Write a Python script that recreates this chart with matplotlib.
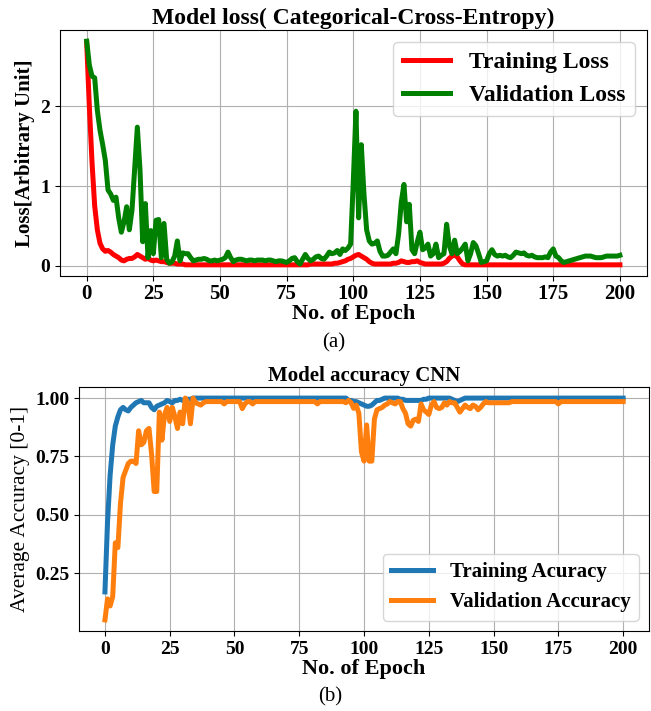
import matplotlib
matplotlib.use("Agg")
import matplotlib.pyplot as plt
import numpy as np

# values, one per epoch (0..200)
epochs = np.arange(201)

train_loss = [
    2.80, 2.00, 1.30, 0.75, 0.45, 0.28, 0.21, 0.18, 0.19, 0.17,
    0.14, 0.12, 0.10, 0.07, 0.06, 0.08, 0.09, 0.09, 0.11, 0.14,
    0.12, 0.10, 0.08, 0.09, 0.07, 0.06, 0.07, 0.06, 0.05, 0.05,
    0.04, 0.03, 0.03, 0.03, 0.02, 0.02, 0.02, 0.01, 0.01, 0.01,
] + [0.01] * 44 + [
    0.02, 0.02, 0.02, 0.02, 0.02, 0.02,
    0.02, 0.02, 0.02, 0.03, 0.03, 0.04, 0.05, 0.06, 0.08, 0.09,
    0.11, 0.13, 0.14, 0.12, 0.10, 0.08, 0.05, 0.03, 0.02, 0.02,
    0.02, 0.02, 0.02, 0.02, 0.02, 0.03, 0.03, 0.04, 0.06, 0.05,
    0.04, 0.04, 0.05, 0.05, 0.06, 0.04, 0.03, 0.02, 0.02, 0.02,
    0.02, 0.02, 0.02, 0.02, 0.03, 0.05, 0.09, 0.12, 0.13, 0.11,
    0.06, 0.02, 0.01, 0.01, 0.01, 0.01, 0.01, 0.01, 0.01, 0.01,
] + [0.01] * 51

val_loss = [
    2.82, 2.52, 2.38, 2.36, 1.95, 1.70, 1.52, 1.32, 0.95, 0.90,
    0.82, 0.86, 0.60, 0.42, 0.55, 0.74, 0.45, 0.70, 1.22, 1.74,
    1.20, 0.30, 0.78, 0.10, 0.44, 0.15, 0.57, 0.58, 0.10, 0.53,
    0.08, 0.03, 0.05, 0.12, 0.31, 0.06, 0.16, 0.15, 0.15, 0.10,
    0.06, 0.07, 0.08, 0.08, 0.09, 0.08, 0.06, 0.06, 0.07, 0.06,
    0.07, 0.08, 0.10, 0.17, 0.10, 0.05, 0.07, 0.08, 0.08, 0.07,
    0.06, 0.07, 0.07, 0.06, 0.07, 0.07, 0.07, 0.06, 0.07, 0.07,
    0.06, 0.05, 0.06, 0.06, 0.05, 0.04, 0.06, 0.09, 0.10, 0.05,
    0.02, 0.08, 0.14, 0.09, 0.06, 0.08, 0.11, 0.12, 0.09, 0.08,
    0.12, 0.17, 0.15, 0.16, 0.19, 0.14, 0.21, 0.19, 0.22, 0.27,
    1.06, 1.94, 0.60, 1.52, 0.90, 0.45, 0.31, 0.27, 0.28, 0.31,
    0.18, 0.12, 0.12, 0.13, 0.17, 0.21, 0.15, 0.40, 0.80, 1.02,
    0.55, 0.77, 0.20, 0.15, 0.30, 0.42, 0.20, 0.22, 0.27, 0.12,
    0.15, 0.27, 0.10, 0.13, 0.15, 0.52, 0.25, 0.15, 0.32, 0.15,
    0.18, 0.22, 0.27, 0.06, 0.15, 0.29, 0.25, 0.15, 0.04, 0.05,
    0.06, 0.15, 0.20, 0.14, 0.12, 0.13, 0.12, 0.13, 0.11, 0.10,
    0.13, 0.17, 0.16, 0.15, 0.16, 0.13, 0.12, 0.13, 0.11, 0.10,
    0.10, 0.10, 0.11, 0.10, 0.17, 0.21, 0.12, 0.10, 0.06, 0.04,
    0.05, 0.06, 0.07, 0.08, 0.09, 0.10, 0.11, 0.12, 0.12, 0.12,
    0.11, 0.10, 0.10, 0.10, 0.11, 0.12, 0.12, 0.12, 0.12, 0.12,
    0.13,
]

train_acc = [
    0.17, 0.47, 0.67, 0.80, 0.88, 0.92, 0.95, 0.96, 0.95, 0.945,
    0.96, 0.97, 0.98, 0.985, 0.99, 0.98, 0.98, 0.98, 0.96, 0.95,
    0.965, 0.97, 0.975, 0.98, 0.99, 0.985, 0.98, 0.99, 0.99, 0.995,
    0.99, 0.995, 0.995, 0.995, 1.0,
] + [1.0] * 59 + [
    0.99, 0.99, 0.985, 0.985, 0.98, 0.975,
    0.97, 0.965, 0.965, 0.97, 0.98, 0.99, 0.99, 0.995, 1.0, 1.0,
    1.0, 1.0, 1.0, 1.0, 0.995, 0.995, 0.99, 0.99, 0.99, 0.99,
    0.99, 0.99, 0.99, 0.995, 0.995, 1.0, 1.0, 1.0, 1.0, 1.0,
    1.0, 1.0, 1.0, 1.0, 0.995, 0.99, 0.985, 0.99, 0.995, 1.0,
] + [1.0] * 61

val_acc = [
    0.05, 0.14, 0.11, 0.15, 0.38, 0.36, 0.55, 0.66, 0.69, 0.72,
    0.73, 0.73, 0.72, 0.86, 0.80, 0.81, 0.86, 0.87, 0.76, 0.60,
    0.60, 0.94, 0.82, 0.93, 0.96, 0.90, 0.96, 0.92, 0.87, 0.94,
    0.89, 1.0, 0.98, 0.89, 1.0, 0.98, 0.975, 0.97, 0.98, 0.985,
    0.985, 0.985, 0.985, 0.985, 0.985, 0.985, 0.975, 0.985, 0.985, 0.985,
    0.985, 0.985, 0.985, 0.955, 0.975, 0.985, 0.985, 0.975, 0.985, 0.985,
] + [0.985] * 22 + [
    0.975, 0.985, 0.985, 0.985, 0.985, 0.985, 0.985, 0.985, 0.985, 0.985,
    0.985, 0.98, 0.99, 0.98, 0.956, 0.97, 0.935, 0.77,
    0.73, 0.885, 0.73, 0.73, 0.91, 0.95, 0.955, 0.96, 0.97, 0.975,
    0.985, 0.98, 0.975, 0.985, 0.985, 0.955, 0.935, 0.89, 0.88, 0.905,
    0.91, 0.90, 0.975, 0.95, 0.94, 0.93, 0.97, 0.985, 0.96, 0.955,
    0.96, 0.98, 0.97, 0.985, 0.98, 0.98, 0.96, 0.94, 0.955, 0.97,
    0.96, 0.955, 0.97, 0.965, 0.95, 0.96, 0.975, 0.985, 0.98, 0.98,
    0.98, 0.98, 0.98, 0.98, 0.98, 0.98, 0.98, 0.985, 0.985, 0.985,
    0.985, 0.985, 0.985, 0.985, 0.985, 0.985, 0.985, 0.985, 0.985, 0.985,
    0.985, 0.985, 0.985, 0.985, 0.985, 0.975,
] + [0.985] * 25

plt.rcParams['font.family'] = 'Liberation Serif'
plt.rcParams['font.weight'] = 'bold'

fig = plt.figure(figsize=(6.51, 7.11), dpi=100)

# (a) loss
ax1 = fig.add_axes([0.0922, 0.6118, 0.901, 0.346])
ax1.plot(epochs, train_loss, color='red', lw=3.6, label='Training Loss')
ax1.plot(epochs, val_loss, color='green', lw=3.6, label='Validation Loss')
ax1.set_title('Model loss( Categorical-Cross-Entropy)', fontsize=17, fontweight='bold', pad=4)
ax1.set_xlabel('No. of Epoch', fontsize=16, fontweight='bold', labelpad=0)
ax1.set_ylabel('Loss[Arbitrary Unit]', fontsize=15, fontweight='bold', labelpad=4)
ax1.set_xticks(np.arange(0, 201, 25))
ax1.set_yticks([0, 1, 2])
ax1.tick_params(axis='x', labelsize=15, pad=2)
ax1.tick_params(axis='y', labelsize=14)
ax1.grid(True)
ax1.legend(loc='upper right', fontsize=17)

# (b) accuracy
ax2 = fig.add_axes([0.1214, 0.1125, 0.8756, 0.3432])
ax2.plot(epochs, train_acc, color='tab:blue', lw=3.6, label='Training Acuracy')
ax2.plot(epochs, val_acc, color='tab:orange', lw=3.6, label='Validation Accuracy')
ax2.set_title('Model accuracy CNN', fontsize=15, fontweight='bold', pad=4)
ax2.set_xlabel('No. of Epoch', fontsize=16, fontweight='bold', labelpad=1)
ax2.set_ylabel('Average Accuracy [0-1]', fontsize=15.5, fontweight='normal', labelpad=4)
ax2.set_xticks(np.arange(0, 201, 25))
ax2.set_yticks([0.25, 0.5, 0.75, 1.0])
ax2.tick_params(labelsize=14)
ax2.grid(True)
ax2.legend(loc='lower right', fontsize=15)

fig.text(0.512, 1 - 343 / 711, '(a)', ha='center', va='center', fontsize=15, fontweight='normal')
fig.text(0.507, 1 - 697 / 711, '(b)', ha='center', va='center', fontsize=15, fontweight='normal')

fig.savefig('out.png', dpi=100)
